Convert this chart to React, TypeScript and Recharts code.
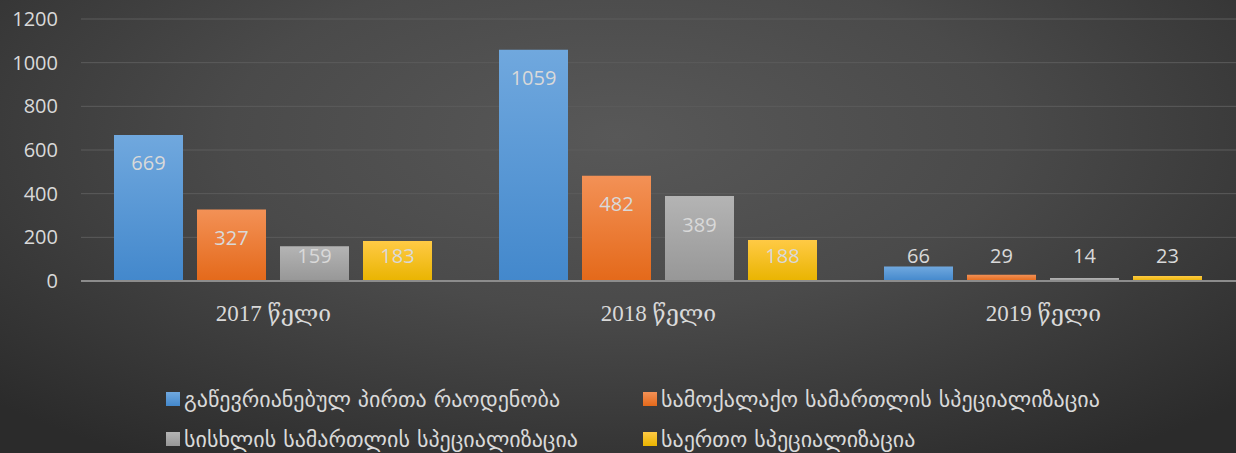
import React from 'react'
import { Bar, BarChart, CartesianGrid, LabelList, XAxis, YAxis } from 'recharts'

const categories = ['2017 წელი', '2018 წელი', '2019 წელი']
const members = [669, 1059, 66]
const civilLaw = [327, 482, 29]
const criminalLaw = [159, 389, 14]
const general = [183, 188, 23]
const yTicks = [0, 200, 400, 600, 800, 1000, 1200]

const seriesNames = [
  'გაწევრიანებულ პირთა რაოდენობა',
  'სამოქალაქო სამართლის სპეციალიზაცია',
  'სისხლის სამართლის სპეციალიზაცია',
  'საერთო სპეციალიზაცია',
]

const series = [
  { key: 'members', name: seriesNames[0], top: '#70a8de', bottom: '#4388cc' },
  { key: 'civil', name: seriesNames[1], top: '#f39156', bottom: '#e4691a' },
  { key: 'criminal', name: seriesNames[2], top: '#b4b4b4', bottom: '#979797' },
  { key: 'general', name: seriesNames[3], top: '#ffca45', bottom: '#e9b400' },
]

const data = categories.map((category, i) => ({
  category,
  members: members[i],
  civil: civilLaw[i],
  criminal: criminalLaw[i],
  general: general[i],
}))

const textColor = '#d9d9d9'

const renderValue = (props: any) => {
  const { x, y, width, height, value } = props
  const top = Number(y)
  const bottom = top + Number(height)
  const cy = Math.min(top + 28, bottom - 26)
  return (
    <text
      x={Number(x) + Number(width) / 2}
      y={cy}
      fill={textColor}
      fontSize={20}
      fontFamily="'Open Sans', sans-serif"
      textAnchor="middle"
      dominantBaseline="central"
    >
      {value}
    </text>
  )
}

export default function App() {
  return (
    <div
      style={{
        position: 'absolute',
        left: 0,
        top: 0,
        width: 1236,
        height: 453,
        overflow: 'hidden',
        background: 'radial-gradient(ellipse 70% 85% at 50% 30%, #585858 0%, #4a4a4a 45%, #2b2b2b 100%)',
      }}
    >
      <BarChart
        width={1236}
        height={453}
        data={data}
        margin={{ top: 19, right: 0, bottom: 132, left: 0 }}
        barCategoryGap={33}
        barGap={14}
      >
        <defs>
          {series.map(s => (
            <linearGradient key={s.key} id={`grad-${s.key}`} x1="0" y1="0" x2="0" y2="1">
              <stop offset="0%" stopColor={s.top} />
              <stop offset="100%" stopColor={s.bottom} />
            </linearGradient>
          ))}
        </defs>
        <CartesianGrid vertical={false} stroke="#5c5c5c" strokeWidth={1} />
        <XAxis
          dataKey="category"
          axisLine={{ stroke: '#8c8c8c', strokeWidth: 2 }}
          tickLine={false}
          tickSize={0}
          tickMargin={24}
          height={40}
          tick={{ fill: textColor, fontSize: 23, fontFamily: "'Liberation Serif', 'DejaVu Serif', serif" }}
        />
        <YAxis
          domain={[0, 1200]}
          ticks={yTicks}
          width={81}
          axisLine={false}
          tickLine={false}
          tickSize={0}
          tickMargin={23}
          tick={{ fill: textColor, fontSize: 20, fontFamily: "'Open Sans', sans-serif" }}
        />
        {series.map(s => (
          <Bar key={s.key} dataKey={s.key} name={s.name} fill={`url(#grad-${s.key})`} isAnimationActive={false}>
            <LabelList dataKey={s.key} content={renderValue} />
          </Bar>
        ))}
      </BarChart>
      <div
        style={{
          position: 'absolute',
          left: 166,
          top: 386,
          display: 'grid',
          gridTemplateColumns: '477px auto',
          rowGap: 14,
          fontFamily: "'DejaVu Sans', sans-serif",
          fontSize: 22,
          color: textColor,
        }}
      >
        {series.map(s => (
          <div key={s.key} style={{ display: 'flex', alignItems: 'center', height: 26, whiteSpace: 'nowrap' }}>
            <span
              style={{
                display: 'inline-block',
                width: 14,
                height: 14,
                marginRight: 4,
                background: `linear-gradient(${s.top}, ${s.bottom})`,
              }}
            />
            {s.name}
          </div>
        ))}
      </div>
    </div>
  )
}
